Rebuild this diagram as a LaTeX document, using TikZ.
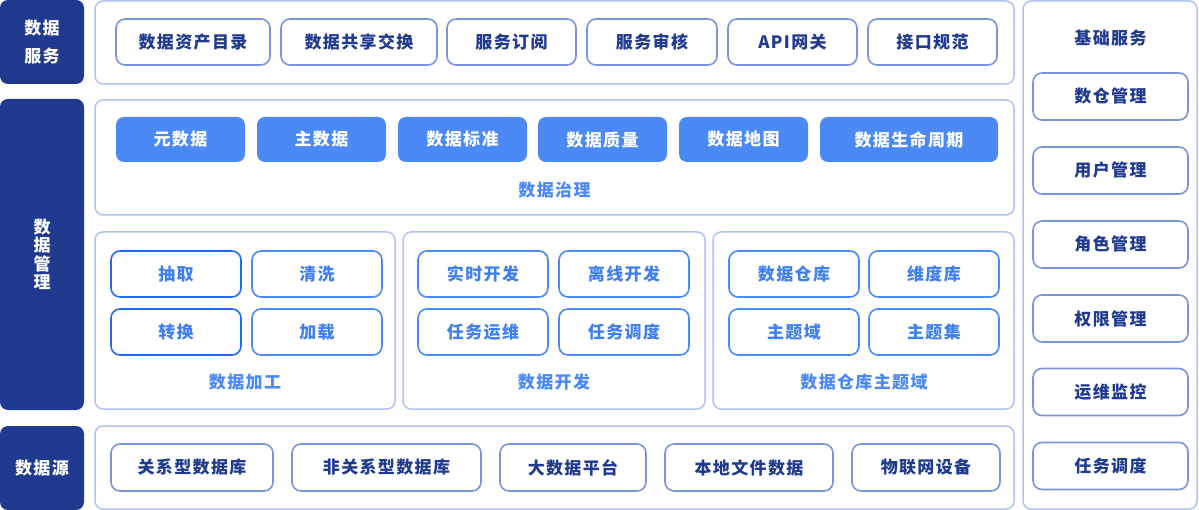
\documentclass[tikz,border=0pt]{standalone}
\usepackage{fontspec}
\setmainfont{Noto Sans CJK SC}[LetterSpace=8]
\definecolor{navy}{HTML}{1F3A8F}
\definecolor{panelline}{HTML}{B3C4F0}
\definecolor{svcline}{HTML}{7D93D9}
\definecolor{govfill}{HTML}{4A89F6}
\definecolor{procline}{HTML}{4A89F6}
\definecolor{procdark}{HTML}{2469F0}
\definecolor{proctext}{HTML}{3F7FF2}
\begin{document}
\begin{tikzpicture}[x=1pt, y=-1pt, font=\fontsize{17}{18.5}\selectfont\bfseries, line join=round,
	panel/.style={draw=panelline, line width=1.5pt, rounded corners=8pt},
	tag/.style={fill=navy, rounded corners=8pt, text=white, align=center, inner sep=0pt},
	svcbox/.style={draw=svcline, line width=1.6pt, rounded corners=9pt, text=navy, minimum height=46pt, inner sep=0pt},
	govbox/.style={fill=govfill, rounded corners=8pt, text=white, minimum height=45pt, inner sep=0pt},
	procbox/.style={draw=procline, line width=1.6pt, rounded corners=9pt, text=proctext, minimum width=130pt, minimum height=46pt, inner sep=0pt},
	grouplabel/.style={text=govfill, inner sep=0pt}]
	\useasboundingbox[fill=white] (0,0) rectangle (1199,510);
	% left tags
	\node[tag, minimum width=84pt, minimum height=84pt] (tagsvc) at (42,42) {数据\\[10pt]服务};
	\node[tag, minimum width=84pt, minimum height=311pt] (tagmgmt) at (42,254.5) {数\\据\\管\\理};
	\node[tag, minimum width=84pt, minimum height=84pt] (tagsrc) at (42,468) {数据源};
	% panels
	\draw[panel] (95,1) rectangle (1014,84);
	\draw[panel] (95,100) rectangle (1014,215);
	\draw[panel] (95,232) rectangle (395,409);
	\draw[panel] (403,232) rectangle (705,409);
	\draw[panel] (713,232) rectangle (1014,409);
	\draw[panel] (95,426) rectangle (1014,509);
	\draw[panel] (1023,1) rectangle (1197,509);
	% data service
	\foreach \name/\x/\w/\txt in {asset/193/154/数据资产目录, share/359/156/数据共享交换, sub/511.5/129/服务订阅,
		audit/652/130/服务审核, gw/792.5/129/API网关, spec/932.5/129/接口规范}
		\node[svcbox, minimum width=\w pt] (svc\name) at (\x,42) {\txt};
	% data governance
	\foreach \name/\x/\w/\txt in {meta/180.5/129/元数据, master/321.5/129/主数据, std/462.5/129/数据标准,
		qual/602.5/129/数据质量, map/743.5/129/数据地图, life/909/178/数据生命周期}
		\node[govbox, minimum width=\w pt] (gov\name) at (\x,139.5) {\txt};
	\node[grouplabel] (govlabel) at (554.5,190) {数据治理};
	% processing, development, warehouse
	\node[procbox, draw=procdark] (extract) at (176,274) {抽取};
	\node[procbox] (clean) at (317,274) {清洗};
	\node[procbox, draw=procdark] (transform) at (176,332) {转换};
	\node[procbox] (load) at (317,332) {加载};
	\node[grouplabel] (proclabel) at (245,382) {数据加工};
	\node[procbox] (realtime) at (483,274) {实时开发};
	\node[procbox] (offline) at (624,274) {离线开发};
	\node[procbox] (ops) at (483,332) {任务运维};
	\node[procbox] (sched) at (624,332) {任务调度};
	\node[grouplabel] (devlabel) at (554,382) {数据开发};
	\node[procbox] (dw) at (794,274) {数据仓库};
	\node[procbox] (dim) at (934,274) {维度库};
	\node[procbox] (domain) at (794,332) {主题域};
	\node[procbox] (topic) at (934,332) {主题集};
	\node[grouplabel] (dwlabel) at (864,382) {数据仓库主题域};
	% data sources
	\foreach \name/\x/\w/\txt in {rdb/192/162/关系型数据库, nosql/386.5/189/非关系型数据库, big/573/146/大数据平台,
		file/749/168/本地文件数据, iot/926/148/物联网设备}
		\node[svcbox, minimum width=\w pt, minimum height=47pt] (src\name) at (\x,467.5) {\txt};
	% base services
	\node[text=navy, inner sep=0pt] (baselabel) at (1110.5,38) {基础服务};
	\foreach \name/\y/\txt in {dwm/96.5/数仓管理, user/170.5/用户管理, role/244.5/角色管理,
		perm/318.5/权限管理, mon/392/运维监控, job/466/任务调度}
		\node[svcbox, minimum width=155pt, minimum height=47pt] (base\name) at (1110.5,\y) {\txt};
\end{tikzpicture}
\end{document}
